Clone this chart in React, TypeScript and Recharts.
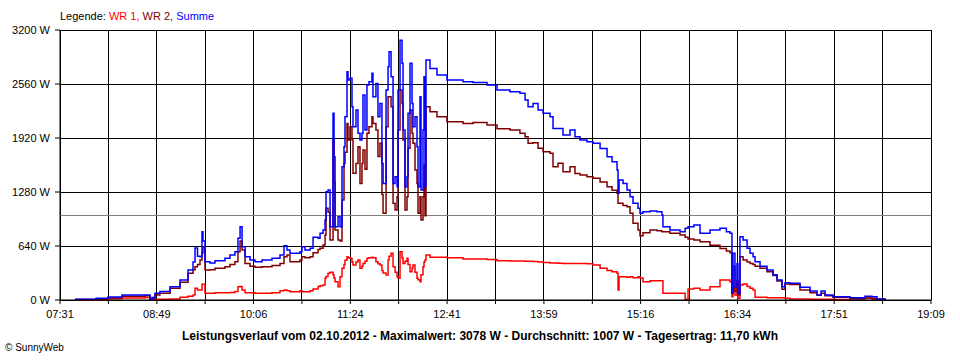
import React from "react";
import {
  LineChart,
  Line,
  XAxis,
  YAxis,
  CartesianGrid,
  ReferenceLine,
} from "recharts";

// minutes since midnight
const times = [
  463, 480, 489.5, 500.7, 519.1, 523.1, 524.7, 527.1, 531.1, 539.2, 547.2, 553.6, 557.6, 559.2, 561.2, 563.2,
  564.8, 565.6, 567.2, 571.2, 575.2, 583.2, 587.2, 591.2, 593.6, 595.3, 596.9, 599.3, 603.3, 607.3, 612.9,
  620.9, 627.3, 630.5, 632.9, 635.3, 643.3, 644.9, 647.3, 651.4, 653.8, 657.8, 659.4, 661.8, 663.4, 664.2,
  665.8, 667.4, 669.8, 670.6, 671.4, 673.8, 675.4, 677.0, 678.6, 679.4, 681.0, 681.8, 683.4, 685.0, 685.8,
  688.2, 689.8, 691.4, 693.0, 693.8, 695.4, 697.0, 698.6, 701.0, 701.8, 704.2, 705.8, 707.4, 709.0, 709.9,
  712.3, 713.9, 714.7, 716.3, 717.9, 719.5, 721.1, 721.9, 723.5, 725.1, 725.9, 727.5, 729.1, 729.9, 731.5,
  733.1, 733.9, 735.5, 737.1, 737.9, 739.5, 740.3, 741.9, 742.7, 743.5, 744.3, 747.5, 753.1, 761.1, 774.0,
  782.0, 793.2, 801.2, 811.6, 819.6, 823.7, 826.1, 830.1, 834.1, 838.1, 843.7, 846.1, 850.1, 854.1, 859.7,
  863.7, 867.7, 873.3, 878.1, 883.8, 889.4, 893.4, 897.4, 898.2, 899.0, 902.2, 905.4, 907.8, 910.2, 914.2,
  915.8, 918.2, 923.8, 929.4, 933.4, 934.2, 939.8, 947.9, 952.0, 954.3, 959.0, 963.9, 971.9, 979.9, 985.0,
  987.9, 989.5, 990.3, 991.9, 993.5, 994.3, 995.9, 998.4, 1001.6, 1004.0, 1006.4, 1008.0, 1012.0, 1017.6,
  1022.4, 1025.6, 1029.6, 1032.0, 1036.0, 1044.0, 1052.1, 1057.7, 1060.9, 1064.1, 1070.5, 1084.1, 1096.1,
  1101.7, 1105.7, 1112.1,
];

const wr1 = [
  2, 5, 15, 25, 30, 5, 5, 8, 10, 12, 32, 45, 59, 138, 120, 118,
  186, 186, 79, 80, 87, 87, 90, 100, 158, 160, 120, 87, 85, 79, 80,
  85, 110, 118, 110, 99, 110, 99, 99, 110, 130, 160, 170, 178, 257, 280,
  316, 330, 300, 260, 217, 158, 276, 375, 420, 470, 513, 500, 494, 450, 415,
  450, 474, 375, 400, 434, 460, 494, 500, 506, 500, 454, 430, 415, 350, 320,
  296, 474, 520, 553, 395, 330, 276, 257, 572, 500, 434, 460, 494, 420, 335,
  380, 415, 330, 257, 240, 217, 300, 395, 450, 474, 533, 506, 506, 500, 486,
  486, 480, 466, 462, 462, 460, 458, 455, 450, 445, 440, 438, 436, 434, 434,
  434, 434, 430, 415, 375, 350, 335, 316, 118, 276, 276, 270, 276, 265, 276,
  260, 217, 229, 229, 229, 79, 79, 79, 10, 130, 138, 118, 158, 237, 237,
  217, 39, 150, 60, 200, 20, 178, 190, 160, 138, 118, 32, 32, 27,
  27, 27, 27, 20, 12, 12, 10, 8, 8, 8, 5, 15, 20,
  10, 5, 0,
];

const wr2 = [
  5, 12, 25, 45, 50, 5, 20, 60, 79, 140, 210, 316, 360, 395, 420, 474,
  560, 632, 355, 360, 375, 395, 420, 454, 572, 699, 592, 434, 400, 387, 395,
  410, 434, 513, 533, 454, 474, 513, 500, 513, 560, 600, 612, 652, 770, 1086,
  1040, 711, 1900, 1400, 830, 711, 700, 1185, 1619, 1750, 2093, 1896, 2054, 1896, 1501,
  1619, 1817, 1382, 1619, 1777, 1550, 1975, 2054, 2172, 2093, 2014, 1700, 1857, 1250, 1027,
  2054, 2409, 2409, 2291, 1146, 1066, 1224, 2014, 2488, 2330, 1896, 1066, 1224, 1800, 2251,
  1975, 1857, 1541, 1382, 1027, 1224, 948, 1224, 1600, 1000, 2291, 2231, 2172, 2113, 2093,
  2105, 2073, 2030, 2014, 1975, 1935, 1857, 1864, 1800, 1757, 1738, 1580, 1620, 1520, 1580,
  1500, 1481, 1461, 1442, 1400, 1343, 1300, 1264, 1146, 1146, 1120, 1106, 1027, 909, 830,
  762, 798, 830, 820, 809, 809, 790, 770, 745, 723, 710, 691, 650, 610, 580,
  561, 79, 400, 100, 230, 60, 513, 474, 450, 434, 420, 400, 375, 335,
  290, 225, 126, 190, 185, 118, 85, 55, 80, 50, 32, 16, 24,
  20, 10, 0,
];

const summe = [
  10, 20, 35, 60, 60, 5, 30, 80, 100, 158, 237, 355, 450, 616, 520, 513,
  810, 700, 454, 440, 466, 494, 533, 572, 731, 869, 632, 513, 474, 454, 474,
  494, 533, 643, 592, 553, 572, 632, 592, 612, 743, 731, 790, 830, 948, 1284,
  1304, 869, 2212, 1698, 869, 987, 869, 1580, 1817, 2172, 2705, 2607, 2627, 2291, 2054,
  2251, 1975, 1896, 1975, 2429, 2014, 2548, 2587, 2686, 2409, 2567, 2172, 2330, 1619, 1382,
  2488, 2765, 2942, 2646, 1382, 1461, 1343, 2488, 3078, 2805, 2014, 1343, 1461, 2212, 2805,
  2330, 2054, 2172, 1817, 1343, 2409, 1304, 2014, 2646, 1343, 2844, 2745, 2666, 2607, 2587,
  2579, 2548, 2488, 2469, 2449, 2370, 2291, 2330, 2251, 2212, 2172, 2034, 2034, 1955, 2014,
  1935, 1896, 1876, 1857, 1797, 1698, 1639, 1541, 1264, 1422, 1382, 1304, 1224, 1146, 1086,
  1027, 1047, 1054, 1047, 1007, 869, 830, 809, 850, 869, 889, 790, 830, 850, 809,
  790, 79, 553, 158, 434, 79, 750, 711, 612, 553, 513, 454, 400, 355,
  300, 237, 158, 205, 198, 150, 107, 59, 107, 59, 40, 27, 45,
  39, 12, 0,
];

const yTicks = [0, 640, 1280, 1920, 2560, 3200];
const xTicks = [
  451, 489.8, 528.6, 567.3, 606.1, 644.9, 683.7, 722.4, 761.2, 800, 838.8, 877.6, 916.3, 955.1, 993.9,
  1032.7, 1071.4, 1110.2, 1149,
];
const xTickLabels = ["07:31", "", "08:49", "", "10:06", "", "11:24", "", "12:41", "", "13:59", "", "15:16", "", "16:34", "", "17:51", "", "19:09"];
const average = 1007;

const data = times.map((t, i) => ({ t, wr1: wr1[i], wr2: wr2[i], summe: summe[i] }));

const font = "'Liberation Sans', Arial, sans-serif";

export default function App() {
  return (
    <div
      style={{
        position: "absolute",
        left: 0,
        top: 0,
        width: 960,
        height: 360,
        background: "#fff",
        fontFamily: font,
        overflow: "hidden",
      }}
    >
      <div style={{ position: "absolute", left: 60, top: 10, fontSize: 11, whiteSpace: "nowrap" }}>
        Legende: <span style={{ color: "#ff0000" }}>WR 1, </span>
        <span style={{ color: "#800000" }}>WR 2, </span>
        <span style={{ color: "#0000ff" }}>Summe</span>
      </div>
      <LineChart
        width={960}
        height={360}
        data={data}
        margin={{ top: 30, right: 29, left: 0, bottom: 30 }}
      >
        <CartesianGrid stroke="#000" strokeWidth={1} shapeRendering="crispEdges" />
        <XAxis
          dataKey="t"
          type="number"
          domain={[451, 1149]}
          ticks={xTicks}
          interval={0}
          height={30}
          tickSize={4}
          tickMargin={6}
          tickFormatter={(v: number, i: number) => xTickLabels[i] ?? ""}
          tick={{ fontSize: 11, fill: "#000", fontFamily: font }}
          tickLine={{ stroke: "#000" }}
          axisLine={{ stroke: "#000" }}
        />
        <YAxis
          type="number"
          domain={[0, 3200]}
          ticks={yTicks}
          width={60}
          tickSize={5}
          tickMargin={5}
          tickFormatter={(v: number) => `${v} W`}
          tick={{ fontSize: 11, fill: "#000", fontFamily: font }}
          tickLine={{ stroke: "#000" }}
          axisLine={{ stroke: "#000" }}
        />
        <ReferenceLine y={average} stroke="#808080" strokeWidth={1} shapeRendering="crispEdges" />
        <Line
          type="stepAfter"
          dataKey="wr1"
          stroke="#ff0000"
          strokeWidth={1.5}
          dot={false}
          activeDot={false}
          isAnimationActive={false}
        />
        <Line
          type="stepAfter"
          dataKey="wr2"
          stroke="#800000"
          strokeWidth={1.5}
          dot={false}
          activeDot={false}
          isAnimationActive={false}
        />
        <Line
          type="stepAfter"
          dataKey="summe"
          stroke="#0000ff"
          strokeWidth={1.5}
          dot={false}
          activeDot={false}
          isAnimationActive={false}
        />
      </LineChart>
      <div
        style={{
          position: "absolute",
          left: 0,
          width: 960,
          top: 329,
          textAlign: "center",
          fontSize: 12,
          fontWeight: "bold",
          whiteSpace: "nowrap",
        }}
      >
        Leistungsverlauf vom 02.10.2012 - Maximalwert: 3078 W - Durchschnitt: 1007 W - Tagesertrag: 11,70 kWh
      </div>
      <div style={{ position: "absolute", left: 5, top: 342, fontSize: 10, whiteSpace: "nowrap" }}>
        © SunnyWeb
      </div>
    </div>
  );
}
